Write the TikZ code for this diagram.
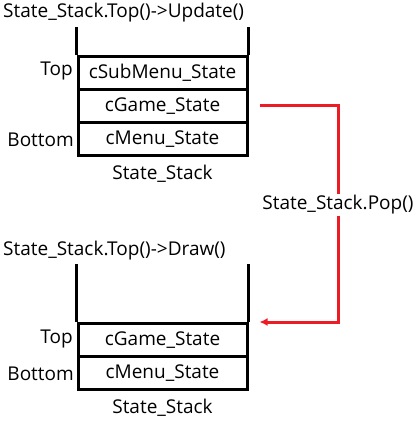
\documentclass[tikz,border=0pt]{standalone}
\usepackage{fontspec}
\setmainfont{Open Sans}
\usetikzlibrary{arrows.meta}
\definecolor{popred}{RGB}{237,28,36}
\tikzset{
  cell/.style={draw, line width=3pt, minimum width=169pt, minimum height=33pt, inner sep=0pt},
  wall/.style={line width=3.5pt},
  side/.style={anchor=east, inner sep=0pt},
  popline/.style={popred, line width=3pt}
}
\begin{document}
\begin{tikzpicture}[x=1pt, y=-1pt, font=\fontsize{19}{22}\selectfont]
  \useasboundingbox (0,0) rectangle (417,422);
  % upper stack
  \node[anchor=west, inner sep=0pt] (upd) at (3,13) {State\_Stack.Top()->Update()};
  \node[cell] (sub1) at (162.5,73) {cSubMenu\_State};
  \node[cell] (game1) at (162.5,106) {cGame\_State};
  \node[cell] (menu1) at (162.5,139) {cMenu\_State};
  \node[side] (top1) at (73,71) {Top};
  \node[side] (bot1) at (74,140) {Bottom};
  \node (name1) at (162.5,174) {State\_Stack};
  \draw[wall] (sub1.north west) -- ++(0,-28);
  \draw[wall] (sub1.north east) -- ++(0,-28);
  % lower stack
  \node[anchor=west, inner sep=0pt] (drw) at (3,251) {State\_Stack.Top()->Draw()};
  \node[cell] (game2) at (162.5,340) {cGame\_State};
  \node[cell] (menu2) at (162.5,373) {cMenu\_State};
  \node[side] (top2) at (73,339) {Top};
  \node[side] (bot2) at (74,374) {Bottom};
  \node (name2) at (162.5,408) {State\_Stack};
  \draw[wall] (game2.north west) -- ++(0,-58);
  \draw[wall] (game2.north east) -- ++(0,-58);
  % pop arrow
  \node[inner sep=1pt] (pop) at (338,205) {State\_Stack.Pop()};
  \draw[popline] ([xshift=11pt]game1.east) -| (pop.north);
  \draw[popline, -{Latex[length=8pt,width=8pt]}] (pop.south) |- ([xshift=11pt]game2.north east);
\end{tikzpicture}
\end{document}
